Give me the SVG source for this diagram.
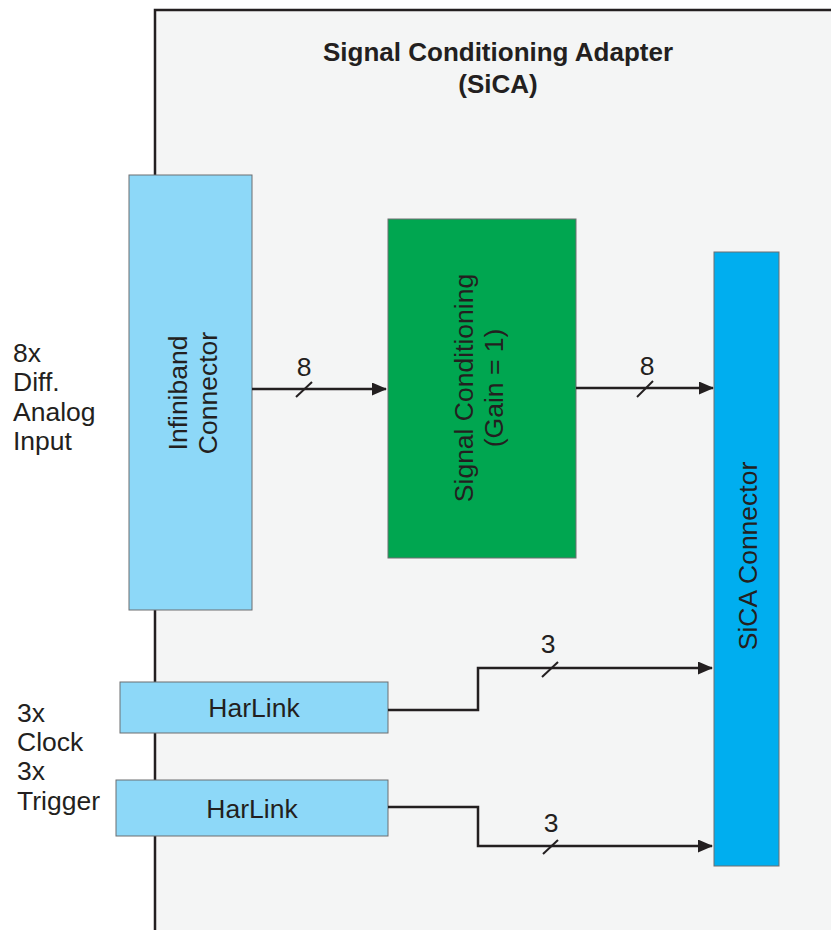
<svg xmlns="http://www.w3.org/2000/svg" width="831" height="930" viewBox="0 0 831 930">
<defs>
<style>
text{font-family:"Liberation Sans",Arial,sans-serif;fill:#231f20}
.t{font-size:26.5px}
.title{font-size:26px;font-weight:bold}
.c{text-anchor:middle}
.box{stroke:#6d6e71;stroke-width:1}
.wire{fill:none;stroke:#231f20;stroke-width:2.5}
.tick{stroke:#231f20;stroke-width:2}
</style>
<marker id="ah" markerWidth="15" markerHeight="13" refX="14" refY="6.5" orient="auto" markerUnits="userSpaceOnUse">
<path d="M0,0 L15,6.5 L0,13 Z" fill="#231f20"/>
</marker>
</defs>
<rect width="831" height="930" fill="#ffffff"/>
<g id="adapter">
<rect x="155" y="10" width="690" height="940" fill="#f4f5f5" stroke="#231f20" stroke-width="2.5"/>
<text class="title c" x="498" y="61">Signal Conditioning Adapter</text>
<text class="title c" x="498" y="93">(SiCA)</text>
</g>
<g id="inputs">
<text class="t" x="13" y="362">8x</text>
<text class="t" x="13" y="391">Diff.</text>
<text class="t" x="13" y="421">Analog</text>
<text class="t" x="13" y="450">Input</text>
<text class="t" x="17" y="722">3x</text>
<text class="t" x="17" y="751">Clock</text>
<text class="t" x="17" y="780">3x</text>
<text class="t" x="17" y="810">Trigger</text>
</g>
<g id="infiniband">
<rect class="box" x="129" y="175" width="123" height="435" fill="#8dd8f8"/>
<text class="t c" transform="translate(190,393) rotate(-90)"><tspan x="0" y="-3">Infiniband</tspan><tspan x="0" y="27">Connector</tspan></text>
</g>
<g id="signal-conditioning">
<rect class="box" x="388" y="219" width="188" height="339" fill="#00a650"/>
<text class="t c" transform="translate(477,388) rotate(-90)"><tspan x="0" y="-4">Signal Conditioning</tspan><tspan x="0" y="26">(Gain = 1)</tspan></text>
</g>
<g id="sica-connector">
<rect class="box" x="714" y="252" width="65" height="614" fill="#00aeef"/>
<text class="t c" transform="translate(757,556) rotate(-90)" x="0" y="0">SiCA Connector</text>
</g>
<g id="harlink1">
<rect class="box" x="120" y="682" width="268" height="51" fill="#8dd8f8"/>
<text class="t c" x="254" y="717">HarLink</text>
</g>
<g id="harlink2">
<rect class="box" x="116" y="780" width="272" height="56" fill="#8dd8f8"/>
<text class="t c" x="252" y="818">HarLink</text>
</g>
<g id="connectors">
<path class="wire" d="M252,389 H386" marker-end="url(#ah)"/>
<line class="tick" x1="296" y1="397" x2="312" y2="382"/>
<text class="t c" x="304" y="376">8</text>
<path class="wire" d="M576,388 H713" marker-end="url(#ah)"/>
<line class="tick" x1="637" y1="397" x2="653" y2="381"/>
<text class="t c" x="647" y="375">8</text>
<path class="wire" d="M388,710 H478 V668 H712" marker-end="url(#ah)"/>
<line class="tick" x1="542" y1="677" x2="558" y2="662"/>
<text class="t c" x="548" y="653">3</text>
<path class="wire" d="M388,807 H478 V846 H712" marker-end="url(#ah)"/>
<line class="tick" x1="543" y1="854" x2="558" y2="840"/>
<text class="t c" x="551" y="832">3</text>
</g>
</svg>
